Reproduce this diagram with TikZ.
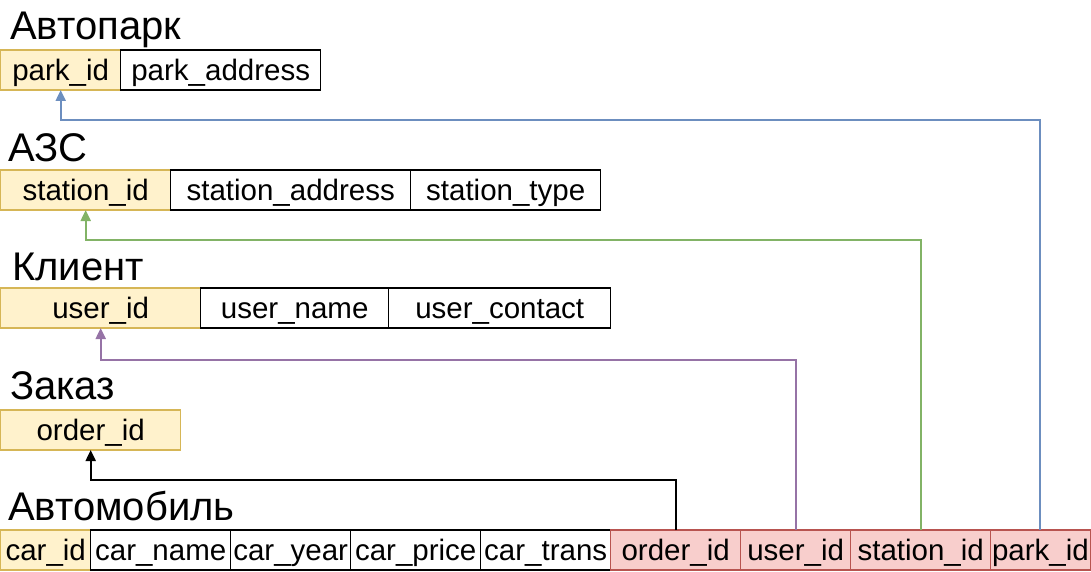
\documentclass[tikz,border=0pt]{standalone}
\usepackage{fontspec}
\setmainfont{Liberation Sans}
\usetikzlibrary{positioning}
\usetikzlibrary{arrows.meta}

\definecolor{pkfill}{HTML}{FFF2CC}
\definecolor{pkline}{HTML}{D6B656}
\definecolor{fkfill}{HTML}{F8CECC}
\definecolor{fkline}{HTML}{B85450}
\definecolor{lnblue}{HTML}{6C8EBF}
\definecolor{lngreen}{HTML}{82B366}
\definecolor{lnpurple}{HTML}{9673A6}

\begin{document}
\begin{tikzpicture}[x=1pt,y=-1pt,>={Triangle[length=11pt,width=10pt]},
    node distance=0pt,
    cellbase/.style={inner sep=0pt,outer sep=0pt,minimum height=40pt,
      line width=1.4pt,font=\fontsize{29.5}{35}\selectfont,
      text height=25pt,text depth=4pt},
    cell/.style={cellbase,draw=black,fill=white},
    pk/.style={cellbase,draw=pkline,fill=pkfill},
    fk/.style={cellbase,draw=fkline,fill=fkfill},
    title/.style={anchor=base west,inner sep=0pt,font=\fontsize{40}{48}\selectfont},
    link/.style={->,line width=2pt}]
  \useasboundingbox (0,0) rectangle (1091,572);

  % Автопарк
  \node[title] (tpark) at (10,40) {Автопарк};
  \node[pk,minimum width=120pt,anchor=north west] (park) at (0.7,50) {park\_id};
  \node[cell,minimum width=200pt,right=of park] (paddr) {park\_address};

  % АЗС
  \node[title] (tstat) at (8,161) {АЗС};
  \node[pk,minimum width=170pt,anchor=north west] (stat) at (0.7,170) {station\_id};
  \node[cell,minimum width=240pt,right=of stat] (saddr) {station\_address};
  \node[cell,minimum width=190pt,right=of saddr] (stype) {station\_type};

  % Клиент
  \node[title] (tuser) at (12,280) {Клиент};
  \node[pk,minimum width=200pt,anchor=north west] (user) at (0.7,288) {user\_id};
  \node[cell,minimum width=188pt,right=of user] (uname) {user\_name};
  \node[cell,minimum width=222pt,right=of uname] (ucont) {user\_contact};

  % Заказ
  \node[title] (tord) at (10,399) {Заказ};
  \node[pk,minimum width=180pt,anchor=north west] (ord) at (0.7,410) {order\_id};

  % Автомобиль
  \node[title] (tcar) at (8,520) {Автомобиль};
  \node[pk,minimum width=90pt,anchor=north west] (car) at (0.7,530) {car\_id};
  \node[cell,minimum width=140pt,right=of car] (cname) {car\_name};
  \node[cell,minimum width=120pt,right=of cname] (cyear) {car\_year};
  \node[cell,minimum width=130pt,right=of cyear] (cprice) {car\_price};
  \node[cell,minimum width=130pt,right=of cprice] (ctrans) {car\_trans};
  \node[fk,minimum width=130pt,right=of ctrans] (ford) {order\_id};
  \node[fk,minimum width=110pt,right=of ford] (fuser) {user\_id};
  \node[fk,minimum width=140pt,right=of fuser] (fstat) {station\_id};
  \node[fk,minimum width=99.5pt,right=of fstat] (fpark) {park\_id};

  % links
  \draw[link,lnblue] (fpark.north) |- ([yshift=-30pt]park.south) -- (park.south);
  \draw[link,lngreen] (fstat.north) |- ([yshift=-30pt]stat.south) -- (stat.south);
  \draw[link,lnpurple] (fuser.north) |- ([yshift=-32pt]user.south) -- (user.south);
  \draw[link,black] (ford.north) |- ([yshift=-30pt]ord.south) -- (ord.south);
\end{tikzpicture}
\end{document}
